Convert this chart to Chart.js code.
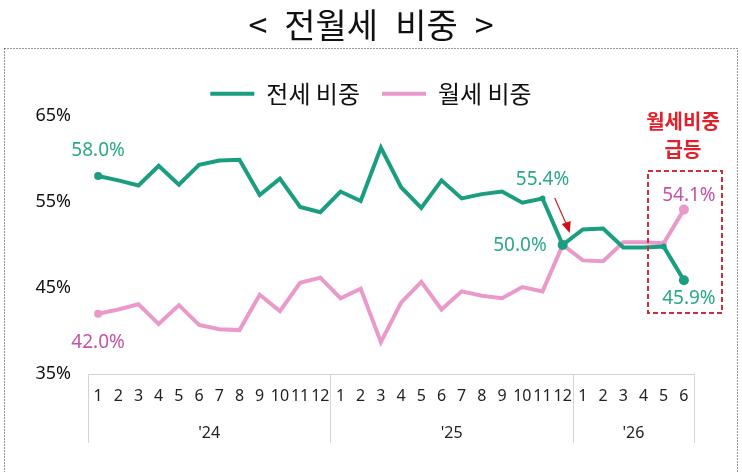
<!DOCTYPE html>
<html lang="ko">
<head>
<meta charset="utf-8">
<script src="https://cdn.jsdelivr.net/npm/chart.js@4.4.1/dist/chart.umd.min.js"></script>
<style>
  html, body { margin: 0; padding: 0; background: #fff; }
</style>
</head>
<body>
<canvas id="rentChart" width="742" height="472"></canvas>
<script>
// 데이터
const months = ['1', '2', '3', '4', '5', '6', '7', '8', '9', '10', '11', '12',
                '1', '2', '3', '4', '5', '6', '7', '8', '9', '10', '11', '12',
                '1', '2', '3', '4', '5', '6'];
const years = ["'24", "'25", "'26"];
const yearSpans = [12, 12, 6];
const jeonseShare = [58.0, 57.5, 56.9, 59.2, 57.0, 59.3, 59.8, 59.9, 55.8, 57.7, 54.4, 53.8,
                     56.2, 55.1, 61.3, 56.7, 54.3, 57.5, 55.4, 55.9, 56.2, 54.9, 55.4, 50.0,
                     51.8, 51.9, 49.7, 49.7, 49.8, 45.9];
const wolseShare = [42.0, 42.5, 43.1, 40.8, 43.0, 40.7, 40.2, 40.1, 44.2, 42.3, 45.6, 46.2,
                    43.8, 44.9, 38.7, 43.3, 45.7, 42.5, 44.6, 44.1, 43.8, 45.1, 44.6, 50.0,
                    48.2, 48.1, 50.3, 50.3, 50.2, 54.1];
const yTicks = [35, 45, 55, 65];

const TEAL = '#1b9e80';
const PINK = '#e99acb';
const FONT = "'Noto Sans', 'Noto Sans CJK KR', sans-serif";
const KFONT = "'Noto Sans CJK KR', sans-serif";

// 점 표시할 위치
function radii(list, n) {
    const r = new Array(n).fill(0);
    list.forEach(([i, v]) => { r[i] = v; });
    return r;
}

// 라벨, 화살표, 박스 등 그리기
const extras = {
    id: 'extras',
    afterDraw(chart) {
        const ctx = chart.ctx;
        const area = chart.chartArea;
        ctx.save();

        // 점선 테두리
        ctx.strokeStyle = '#333';
        ctx.lineWidth = 1;
        ctx.setLineDash([1, 2]);
        ctx.strokeRect(4.5, 48.5, 733, 430);
        ctx.setLineDash([]);

        // 연도 구분선과 연도 라벨
        ctx.strokeStyle = '#d4d4d4';
        let start = 0;
        const step = (area.right - area.left) / months.length;
        const bounds = [area.left];
        yearSpans.forEach(s => { start += s; bounds.push(area.left + start * step); });
        bounds.forEach(b => {
            ctx.beginPath();
            ctx.moveTo(Math.round(b) + 0.5, area.bottom);
            ctx.lineTo(Math.round(b) + 0.5, 443);
            ctx.stroke();
        });
        ctx.fillStyle = '#222';
        ctx.font = '16px ' + FONT;
        ctx.textAlign = 'center';
        ctx.textBaseline = 'middle';
        years.forEach((yr, i) => {
            ctx.fillText(yr, (bounds[i] + bounds[i + 1]) / 2, 433);
        });

        // 값 라벨
        const labels = [
            {ds: 0, i: 0, text: '58.0%', dx: 0, dy: -25, color: '#2aa88c', align: 'center'},
            {ds: 1, i: 0, text: '42.0%', dx: 0, dy: 29, color: '#c454a8', align: 'center'},
            {ds: 0, i: 22, text: '55.4%', dx: 0, dy: -19, color: '#2aa88c', align: 'center'},
            {ds: 0, i: 23, text: '50.0%', dx: -16, dy: 1, color: '#2aa88c', align: 'right'},
            {ds: 1, i: 29, text: '54.1%', dx: 5, dy: -14, color: '#c454a8', align: 'center'},
            {ds: 0, i: 29, text: '45.9%', dx: 5, dy: 18, color: '#2aa88c', align: 'center'}
        ];
        ctx.font = '19px ' + FONT;
        labels.forEach(l => {
            const pt = chart.getDatasetMeta(l.ds).data[l.i];
            ctx.fillStyle = l.color;
            ctx.textAlign = l.align;
            ctx.fillText(l.text, pt.x + l.dx, pt.y + l.dy);
        });

        // 빨간 화살표
        const tip = chart.getDatasetMeta(0).data[23];
        const ax = tip.x + 7, ay = tip.y - 12;
        ctx.strokeStyle = '#c8202a';
        ctx.fillStyle = '#d0101a';
        ctx.lineWidth = 1.2;
        ctx.beginPath();
        ctx.moveTo(ax - 15, ay - 35);
        ctx.lineTo(ax - 3, ay - 8);
        ctx.stroke();
        ctx.beginPath();
        ctx.moveTo(ax, ay);
        ctx.lineTo(ax - 8, ay - 9);
        ctx.lineTo(ax + 1, ay - 12);
        ctx.closePath();
        ctx.fill();

        // 급등 박스
        ctx.strokeStyle = '#c8303a';
        ctx.lineWidth = 2;
        ctx.setLineDash([5, 3]);
        ctx.strokeRect(648, 171, 74, 142);
        ctx.setLineDash([]);
        ctx.fillStyle = '#e0202a';
        ctx.font = 'bold 20px ' + KFONT;
        ctx.textAlign = 'center';
        ctx.fillText('월세비중', 683, 121);
        ctx.fillText('급등', 683, 149);

        ctx.restore();
    }
};

function initRentChart() {
    const el = document.getElementById('rentChart');
    new Chart(el.getContext('2d'), {
        type: 'line',
        data: {
            labels: months,
            datasets: [{
                label: '전세 비중',
                data: jeonseShare,
                borderColor: TEAL,
                backgroundColor: TEAL,
                borderWidth: 4,
                pointRadius: radii([[0, 4], [22, 3], [23, 5], [28, 3], [29, 5]], months.length),
                pointBackgroundColor: TEAL,
                pointBorderWidth: 0,
                tension: 0
            }, {
                label: '월세 비중',
                data: wolseShare,
                borderColor: PINK,
                backgroundColor: PINK,
                borderWidth: 4,
                pointRadius: radii([[0, 4], [23, 4], [28, 3], [29, 5]], months.length),
                pointBackgroundColor: PINK,
                pointBorderWidth: 0,
                tension: 0
            }]
        },
        options: {
            responsive: false,
            animation: false,
            layout: { padding: 0 },
            plugins: {
                title: {
                    display: true,
                    text: '<\u2002전월세\u2002비중\u2002>',
                    color: '#111',
                    font: { family: KFONT, size: 34, weight: 'normal' },
                    padding: { top: 5, bottom: 14 }
                },
                legend: {
                    position: 'top',
                    labels: {
                        color: '#111',
                        font: { family: KFONT, size: 24 },
                        boxWidth: 44,
                        boxHeight: 4,
                        padding: 22,
                        generateLabels: chart => Chart.defaults.plugins.legend.labels
                            .generateLabels(chart).map(item => ({ ...item, lineWidth: 0 }))
                    }
                },
                tooltip: { enabled: false }
            },
            scales: {
                x: {
                    offset: true,
                    grid: { display: false, drawTicks: false },
                    border: { color: '#d4d4d4' },
                    ticks: {
                        autoSkip: false,
                        maxRotation: 0,
                        color: '#222',
                        font: { family: FONT, size: 16 },
                        padding: 13
                    },
                    afterFit: s => { s.height = 98; }
                },
                y: {
                    min: yTicks[0],
                    max: yTicks[yTicks.length - 1],
                    grid: { display: false, drawTicks: false },
                    border: { display: false },
                    afterBuildTicks: s => { s.ticks = yTicks.map(v => ({ value: v })); },
                    ticks: {
                        color: '#111',
                        font: { family: FONT, size: 18 },
                        padding: 17,
                        callback: v => v + '%'
                    },
                    afterFit: s => { s.width = 88; }
                },
                // 오른쪽 여백용 빈 축
                yRight: {
                    position: 'right',
                    min: yTicks[0],
                    max: yTicks[yTicks.length - 1],
                    grid: { display: false, drawTicks: false },
                    border: { display: false },
                    ticks: { display: false },
                    afterFit: s => { s.width = 48; }
                }
            }
        },
        plugins: [extras]
    });
}

document.addEventListener('DOMContentLoaded', function() {
    initRentChart();
});
</script>
</body>
</html>
